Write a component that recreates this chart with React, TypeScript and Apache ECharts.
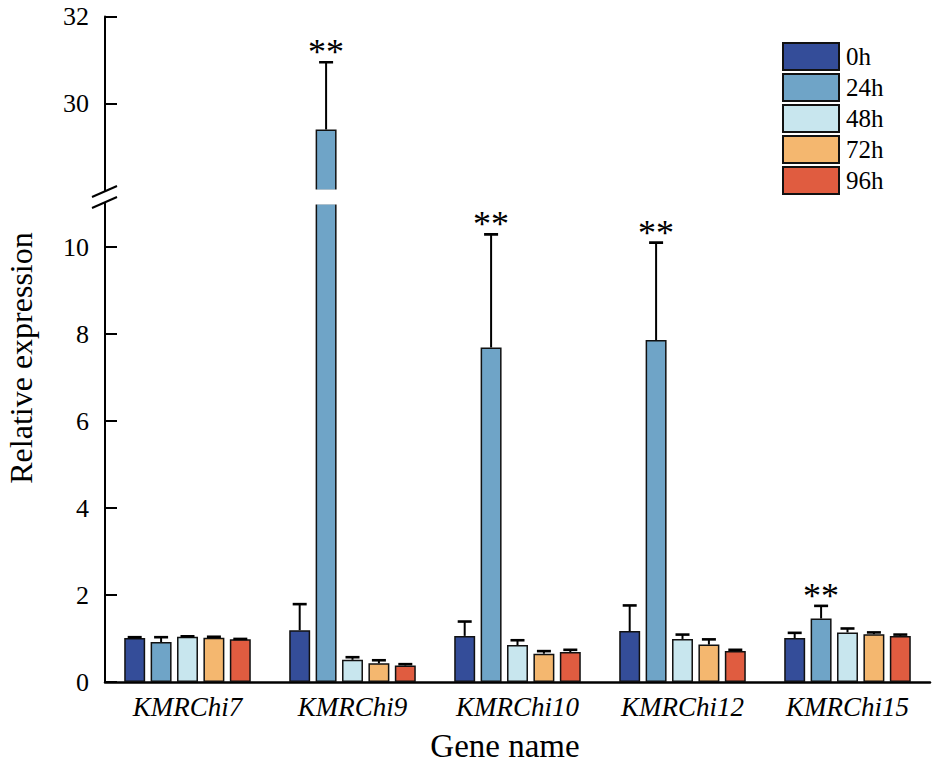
import React, { useEffect, useRef } from "react";
import * as echarts from "echarts";

const categories = ["KMRChi7", "KMRChi9", "KMRChi10", "KMRChi12", "KMRChi15"];
const times = ["0h", "24h", "48h", "72h", "96h"];
const colors = ["#344d99", "#6fa4c7", "#c8e6ee", "#f4b76f", "#e05c40"];

const mean0h = [1.01, 1.19, 1.06, 1.17, 1.01];
const err0h = [0.02, 0.6, 0.33, 0.59, 0.12];
const mean24h = [0.92, 29.4, 7.69, 7.86, 1.46];
const err24h = [0.11, 1.55, 2.6, 2.24, 0.29];
const mean48h = [1.04, 0.51, 0.85, 0.99, 1.14];
const err48h = [0.01, 0.06, 0.11, 0.1, 0.09];
const mean72h = [1.02, 0.43, 0.65, 0.86, 1.1];
const err72h = [0.02, 0.07, 0.06, 0.12, 0.04];
const mean96h = [0.98, 0.38, 0.69, 0.71, 1.06];
const err96h = [0.01, 0.03, 0.05, 0.03, 0.03];
const sig24h = ["", "**", "**", "**", "**"];

const means = [mean0h, mean24h, mean48h, mean72h, mean96h];
const errs = [err0h, err24h, err48h, err72h, err96h];
const sigs = [[], sig24h, [], [], []];

const upperTicks = [30, 32];
const lowerTicks = [0, 2, 4, 6, 8, 10];

const FONT = "Liberation Serif";
const BAR_W = 0.127;
const BAR_GAP = 0.26;

export default function App() {
  const ref = useRef<HTMLDivElement>(null);
  useEffect(() => {
    document.body.style.margin = "0";
    if (!ref.current) return;
    const chart = echarts.init(ref.current, null, { renderer: "svg" });

    const errData: number[][] = [];
    means.forEach((arr, s) =>
      arr.forEach((m, c) => errData.push([c, s, m, errs[s][c]]))
    );

    const makeRender = (lo: number, hi: number) => (params: any, api: any) => {
      const c = api.value(0);
      const s = api.value(1);
      const m = api.value(2);
      const e = api.value(3);
      if (m < lo || m > hi) return null;
      const bandW = api.size([1, 0])[0];
      const bw = bandW * BAR_W;
      const gap = bw * BAR_GAP;
      const total = 5 * bw + 4 * gap;
      const off = -total / 2 + bw / 2 + s * (bw + gap);
      const base = api.coord([c, m]);
      const top = api.coord([c, m + e]);
      const x = base[0] + off;
      const children: any[] = [
        { type: "line", shape: { x1: x, y1: base[1], x2: x, y2: top[1] }, style: { stroke: "#000", lineWidth: 2 } },
        { type: "line", shape: { x1: x - 7, y1: top[1], x2: x + 7, y2: top[1] }, style: { stroke: "#000", lineWidth: 2.6 } },
      ];
      const sg = sigs[s][c];
      if (sg) {
        children.push({
          type: "text",
          x: x,
          y: top[1] + 8,
          style: { text: sg, fontSize: 36, fontFamily: FONT, fill: "#000", align: "center", verticalAlign: "bottom" },
        });
      }
      return { type: "group", children };
    };

    const barSeries = (g: number) =>
      times.map((t, s) => ({
        name: t,
        type: "bar",
        xAxisIndex: g,
        yAxisIndex: g,
        data: means[s],
        barWidth: BAR_W * 100 + "%",
        barGap: BAR_GAP * 100 + "%",
        clip: true,
        itemStyle: { color: colors[s], borderColor: "#111", borderWidth: 1.5 },
      }));

    const labelStyle = { color: "#000", fontSize: 26, fontFamily: FONT, margin: 16 };
    const yCommon = {
      type: "value",
      interval: 2,
      splitLine: { show: false },
      axisLine: { show: true, lineStyle: { color: "#000", width: 2 } },
    };

    chart.setOption({
      animation: false,
      grid: [
        { left: 105, right: 5, top: 16.5, height: 174 },
        { left: 105, right: 5, top: 203.5, height: 478.5 },
      ],
      xAxis: [
        { type: "category", gridIndex: 0, data: categories, show: false },
        {
          type: "category",
          gridIndex: 1,
          data: categories,
          axisLine: { show: true, lineStyle: { color: "#000", width: 2.5 } },
          axisTick: { show: false },
          axisLabel: { color: "#000", fontSize: 27, fontStyle: "italic", fontFamily: FONT, margin: 11 },
        },
      ],
      yAxis: [
        {
          ...yCommon,
          gridIndex: 0,
          min: 28,
          max: 32,
          axisTick: { show: true, inside: true, length: 12, customValues: upperTicks, lineStyle: { color: "#000", width: 2 } },
          axisLabel: { ...labelStyle, formatter: (v: number) => (upperTicks.indexOf(v) >= 0 ? String(v) : "") },
        },
        {
          ...yCommon,
          gridIndex: 1,
          min: 0,
          max: 11,
          axisTick: { show: true, inside: true, length: 12, customValues: lowerTicks, lineStyle: { color: "#000", width: 2 } },
          axisLabel: { ...labelStyle, formatter: (v: number) => (lowerTicks.indexOf(v) >= 0 ? String(v) : "") },
        },
      ],
      legend: {
        data: times,
        orient: "vertical",
        left: 782,
        top: 42,
        padding: 0,
        z: 100,
        itemWidth: 56,
        itemHeight: 27,
        itemGap: 2,
        icon: "rect",
        selectedMode: false,
        textStyle: { color: "#000", fontSize: 25, lineHeight: 27, fontFamily: FONT, padding: [0, 0, 0, 2] },
      },
      series: [
        ...barSeries(0),
        ...barSeries(1),
        { type: "custom", xAxisIndex: 0, yAxisIndex: 0, clip: true, z: 5, silent: true, data: errData, encode: { x: 0, y: 2 }, renderItem: makeRender(28, 32) },
        { type: "custom", xAxisIndex: 1, yAxisIndex: 1, clip: true, z: 5, silent: true, data: errData, encode: { x: 0, y: 2 }, renderItem: makeRender(0, 11) },
      ],
      graphic: [
        { type: "rect", z: 50, shape: { x: 107, y: 189.5, width: 660, height: 15 }, style: { fill: "#fff" } },
        { type: "rect", z: 55, shape: { x: 103, y: 191.5, width: 5, height: 11 }, style: { fill: "#fff" } },
        { type: "line", z: 60, shape: { x1: 92, y1: 197, x2: 117, y2: 186 }, style: { stroke: "#000", lineWidth: 2 } },
        { type: "line", z: 60, shape: { x1: 92, y1: 208, x2: 117, y2: 197 }, style: { stroke: "#000", lineWidth: 2 } },
        {
          type: "text",
          z: 60,
          x: 21,
          y: 358,
          rotation: Math.PI / 2,
          style: { text: "Relative expression", fontSize: 32, fontFamily: FONT, fill: "#000", align: "center", verticalAlign: "middle" },
        },
        {
          type: "text",
          z: 60,
          x: 505,
          y: 746,
          style: { text: "Gene name", fontSize: 33, fontFamily: FONT, fill: "#000", align: "center", verticalAlign: "middle" },
        },
      ],
    });
    return () => chart.dispose();
  }, []);
  return <div ref={ref} style={{ width: 935, height: 770 }} />;
}
